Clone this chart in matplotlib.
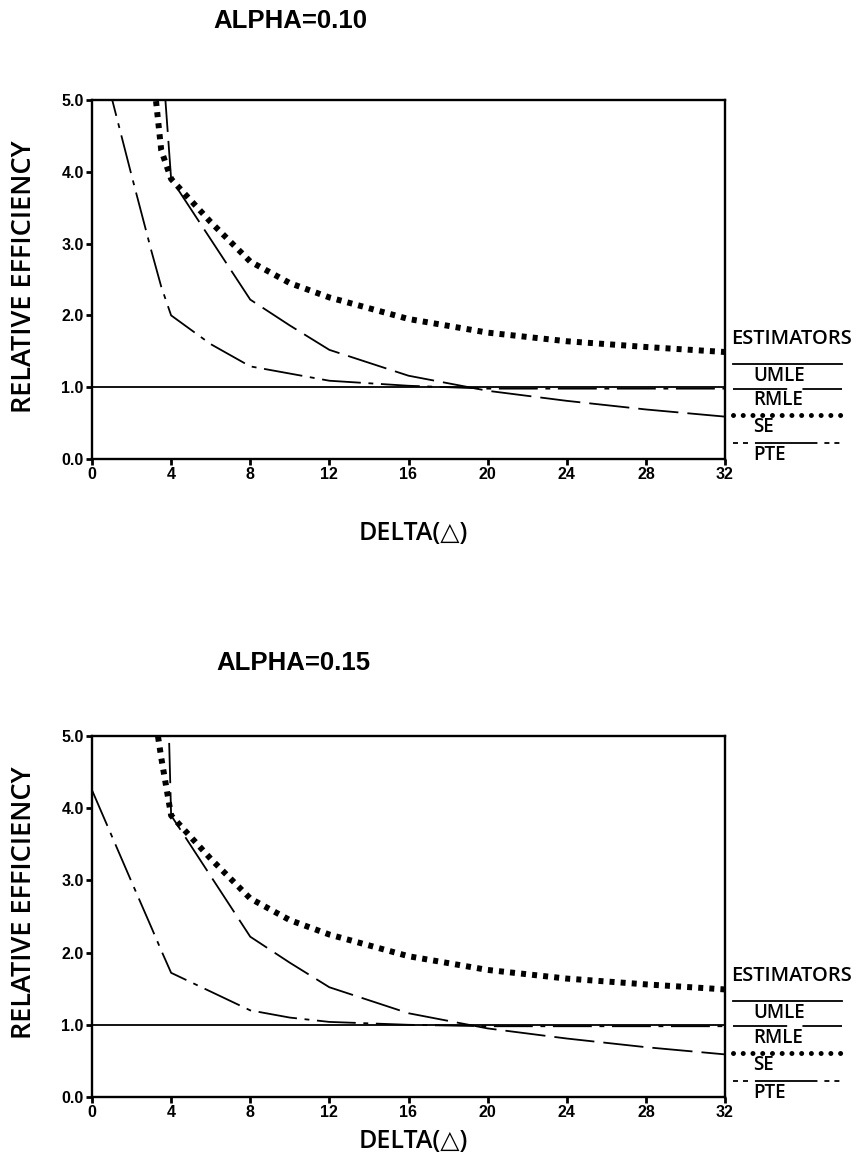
import numpy as np
import matplotlib
matplotlib.use("Agg")
import matplotlib.pyplot as plt

plt.rcParams['lines.scale_dashes'] = False

# ---------------- data ----------------
delta = [0, 2, 3, 3.5, 4, 6, 8, 10, 12, 16, 20, 24, 28, 32]
nan = np.nan

umle = [1.0] * len(delta)

rmle_010 = [nan, nan, nan, 5.8, 3.9, 3.06, 2.22, 1.86, 1.52, 1.16, 0.95, 0.81, 0.69, 0.59]
se_010 = [nan, nan, 5.6, 4.3, 3.9, 3.3, 2.75, 2.45, 2.25, 1.95, 1.76, 1.64, 1.56, 1.49]
pte_010 = [6.1, 3.95, 2.9, 2.4, 2.0, 1.6, 1.29, 1.19, 1.09, 1.02, 0.98, 0.98, 0.98, 0.98]

rmle_015 = [nan, nan, nan, 9.0, 3.9, 3.06, 2.22, 1.86, 1.52, 1.16, 0.95, 0.81, 0.69, 0.59]
se_015 = [nan, nan, 5.6, 4.7, 3.9, 3.3, 2.75, 2.45, 2.25, 1.95, 1.76, 1.64, 1.56, 1.49]
pte_015 = [4.25, 2.98, 2.35, 2.03, 1.72, 1.46, 1.2, 1.1, 1.04, 1.0, 0.98, 0.98, 0.98, 0.98]

titles = ["ALPHA=0.10", "ALPHA=0.15"]
estimators = ["UMLE", "RMLE", "SE", "PTE"]
xticks = [0, 4, 8, 12, 16, 20, 24, 28, 32]
yticks = [0.0, 1.0, 2.0, 3.0, 4.0, 5.0]
ytick_labels = ["0.0", "1.0", "2.0", "3.0", "4.0", "5.0"]
xlabel = "DELTA(\u25b3)"
ylabel = "RELATIVE EFFICIENCY"
legend_title = "ESTIMATORS"

# ---------------- styles ----------------
W, H = 857, 1165
TICKFONT = dict(family=['Liberation Sans', 'DejaVu Sans'], weight='bold', size=11.5)
LABFONT = ['Open Sans', 'DejaVu Sans']

styles = {
    "UMLE": dict(color='black', lw=1.3, linestyle='-'),
    "RMLE": dict(color='black', lw=1.3, linestyle=(0, (29, 6.5))),
    "SE": dict(color='black', lw=4.3, linestyle=(0, (3.6, 4.4)), solid_capstyle='butt', dash_capstyle='butt'),
    "PTE": dict(color='black', lw=1.3, linestyle=(0, (28, 5.5, 3.5, 5.5))),
}
leg_styles = {
    "UMLE": dict(color='black', lw=1.3, linestyle='-'),
    "RMLE": dict(color='black', lw=1.3, linestyle=(0, (39, 11))),
    "SE": dict(color='black', lw=3.6, linestyle=(0, (0.01, 7.0)), dash_capstyle='round'),
    "PTE": dict(color='black', lw=1.3, linestyle=(0, (3.6, 3.6, 3.6, 5, 45, 5))),
}

fig = plt.figure(figsize=(W / 100, H / 100), dpi=100)

panels = [
    dict(top=100, bottom=459, title_y=21, title_x=290, xlab_y=533, ylab_y=277,
         rmle=rmle_010, se=se_010, pte=pte_010),
    dict(top=736, bottom=1097, title_y=663, title_x=293, xlab_y=1141, ylab_y=903,
         rmle=rmle_015, se=se_015, pte=pte_015),
]

for p, title in zip(panels, titles):
    ax = fig.add_axes([92 / W, 1 - p['bottom'] / H, (725 - 92) / W, (p['bottom'] - p['top']) / H])
    ax.set_xlim(0, 32)
    ax.set_ylim(0, 5)
    series = {"UMLE": umle, "RMLE": p['rmle'], "SE": p['se'], "PTE": p['pte']}
    for name in ["UMLE", "PTE", "RMLE", "SE"]:
        ax.plot(delta, series[name], **styles[name])
    for s in ax.spines.values():
        s.set_linewidth(1.7)
    ax.set_xticks(xticks)
    ax.set_xticklabels([str(t) for t in xticks], fontdict=TICKFONT)
    ax.set_yticks(yticks)
    ax.set_yticklabels(ytick_labels, fontdict=TICKFONT)
    ax.tick_params(direction='out', length=4, width=2, pad=2)

    # legend drawn at right of the axes
    ax.text(1.010, 0.335, legend_title, transform=ax.transAxes, ha='left', va='center',
            fontsize=14.5, family=LABFONT, weight='semibold')
    line_y = [0.265, 0.196, 0.122, 0.045]
    for name, ly in zip(estimators, line_y):
        ax.plot([1.012, 1.185], [ly, ly], transform=ax.transAxes, clip_on=False, **leg_styles[name])
        ax.text(1.045, ly - 0.033, name, transform=ax.transAxes, ha='left', va='center',
                fontsize=13.5, family=LABFONT, weight='semibold')

    fig.text(p['title_x'] / W, 1 - p['title_y'] / H, title, ha='center', va='center',
             fontsize=18.5, weight='bold', family=['Liberation Sans', 'DejaVu Sans'])
    fig.text(413 / W, 1 - p['xlab_y'] / H, xlabel, ha='center', va='center',
             fontsize=18, family=LABFONT, weight='semibold')
    fig.text(24 / W, 1 - p['ylab_y'] / H, ylabel, ha='center', va='center', rotation=90,
             fontsize=19.5, family=LABFONT, weight='semibold')

fig.savefig("out.png", dpi=100)
